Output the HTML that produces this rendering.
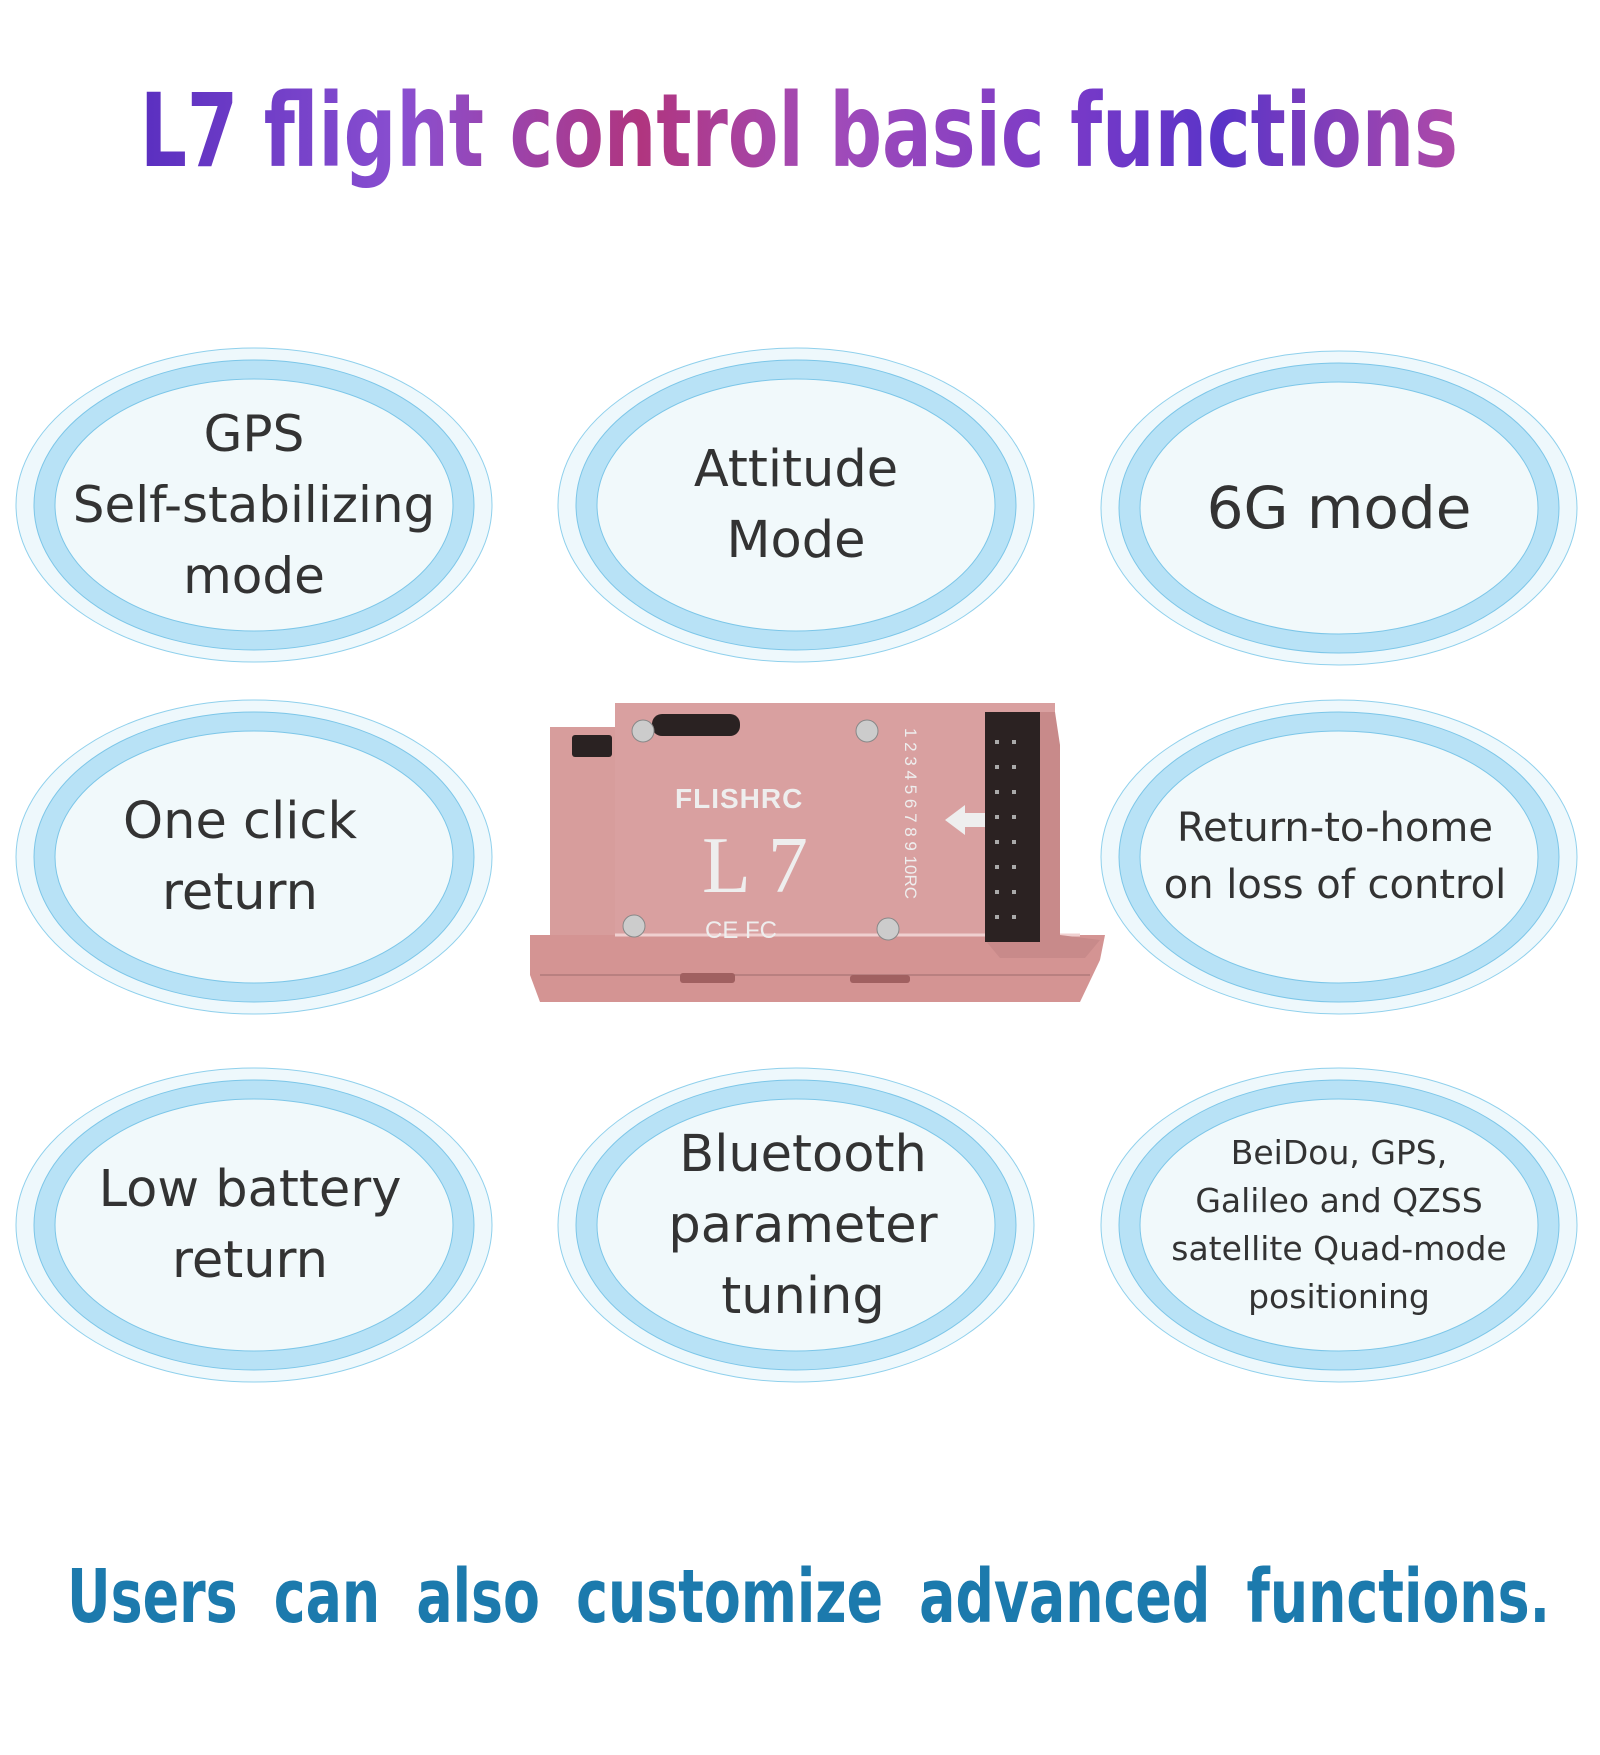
<!DOCTYPE html>
<html><head><meta charset="utf-8"><style>
html,body{margin:0;padding:0;background:#fff;}
body{width:1600px;height:1755px;position:relative;overflow:hidden;font-family:"DejaVu Sans","Liberation Sans",sans-serif;}
.t{position:absolute;display:flex;align-items:center;justify-content:center;text-align:center;color:#333;}
</style></head><body>
<svg width="1600" height="1755" style="position:absolute;left:0;top:0">
<defs>
<linearGradient id="tg" x1="0" x2="1" y1="0" y2="0">
<stop offset="0" stop-color="#5a2fc0"/><stop offset="0.2" stop-color="#8a4fd0"/>
<stop offset="0.38" stop-color="#b0357f"/><stop offset="0.52" stop-color="#a24cb8"/>
<stop offset="0.7" stop-color="#7a3ac8"/><stop offset="0.82" stop-color="#5a34c8"/>
<stop offset="1" stop-color="#b04aa8"/></linearGradient>
<g id="ov">
<ellipse rx="238" ry="157" fill="#eef8fc" stroke="#8fd0ec" stroke-width="1"/>
<ellipse rx="220" ry="145" fill="#b8e2f6" stroke="#7cc6e8" stroke-width="1"/>
<ellipse rx="199" ry="126" fill="#f1f9fb" stroke="#7cc6e8" stroke-width="1"/>
</g>
</defs>
<text x="140" y="166" textLength="1318" lengthAdjust="spacingAndGlyphs" font-family="DejaVu Sans" font-weight="bold" font-size="102" fill="url(#tg)">L7 flight control basic functions</text>
<use href="#ov" x="254" y="505"/><use href="#ov" x="796" y="505"/><use href="#ov" x="1339" y="508"/>
<use href="#ov" x="254" y="857"/><use href="#ov" x="1339" y="857"/>
<use href="#ov" x="254" y="1225"/><use href="#ov" x="796" y="1225"/><use href="#ov" x="1339" y="1225"/>
<g>
<polygon points="550,727 615,727 615,935 550,935" fill="#d79d9c"/>
<rect x="572" y="735" width="40" height="22" rx="3" fill="#2a2222"/>
<polygon points="530,935 1105,935 1100,960 1080,1002 540,1002 530,975" fill="#d49493"/>
<line x1="540" y1="975" x2="1090" y2="975" stroke="#b98080" stroke-width="2"/>
<rect x="615" y="703" width="440" height="232" fill="#d9a0a0"/>
<line x1="615" y1="935" x2="1080" y2="935" stroke="#f0d0d0" stroke-width="3"/>
<polygon points="985,712 1055,712 1060,745 1060,935 1100,940 1085,958 1000,958 985,940" fill="#c88a8a"/>
<rect x="985" y="712" width="55" height="230" fill="#2b2222"/>
<g fill="#aaa">
<rect x="995" y="740" width="4" height="4"/><rect x="1012" y="740" width="4" height="4"/>
<rect x="995" y="765" width="4" height="4"/><rect x="1012" y="765" width="4" height="4"/>
<rect x="995" y="790" width="4" height="4"/><rect x="1012" y="790" width="4" height="4"/>
<rect x="995" y="815" width="4" height="4"/><rect x="1012" y="815" width="4" height="4"/>
<rect x="995" y="840" width="4" height="4"/><rect x="1012" y="840" width="4" height="4"/>
<rect x="995" y="865" width="4" height="4"/><rect x="1012" y="865" width="4" height="4"/>
<rect x="995" y="890" width="4" height="4"/><rect x="1012" y="890" width="4" height="4"/>
<rect x="995" y="915" width="4" height="4"/><rect x="1012" y="915" width="4" height="4"/>
</g>
<rect x="652" y="714" width="88" height="22" rx="10" fill="#2a2222"/>
<g fill="#ccc" stroke="#888"><circle cx="643" cy="731" r="11"/><circle cx="867" cy="731" r="11"/><circle cx="634" cy="926" r="11"/><circle cx="888" cy="929" r="11"/></g>
<text x="675" y="808" font-family="Liberation Sans" font-weight="bold" font-size="28" fill="#eee" letter-spacing="1">FLISHRC</text>
<text x="702" y="892" font-family="Liberation Serif" font-size="80" fill="#eee">L 7</text>
<text x="705" y="938" font-family="Liberation Sans" font-size="24" fill="#eee">CE   FC</text>
<polygon points="945,820 965,805 965,813 985,813 985,827 965,827 965,835" fill="#eee"/>
<text x="0" y="0" transform="translate(905,728) rotate(90)" font-family="Liberation Sans" font-size="17" fill="#eee">1 2 3 4 5 6 7 8 9 10RC</text>
<rect x="680" y="973" width="55" height="10" rx="3" fill="#a06060"/>
<rect x="850" y="975" width="60" height="8" rx="3" fill="#a06060"/>
</g>
<text x="67" y="1622" textLength="1483" lengthAdjust="spacingAndGlyphs" font-family="DejaVu Sans" font-weight="bold" font-size="74" fill="#1c7aad" word-spacing="24">Users can also customize advanced functions.</text>
</svg>
<div class="t" style="left:54px;top:380px;width:400px;height:250px;font-size:50px;line-height:71px">GPS<br>Self-stabilizing<br>mode</div>
<div class="t" style="left:596px;top:380px;width:400px;height:250px;font-size:51px;line-height:71px">Attitude<br>Mode</div>
<div class="t" style="left:1139px;top:383px;width:400px;height:250px;font-size:58px">6G mode</div>
<div class="t" style="left:40px;top:732px;width:400px;height:250px;font-size:51px;line-height:71px">One click<br>return</div>
<div class="t" style="left:1135px;top:732px;width:400px;height:250px;font-size:40px;line-height:57px">Return-to-home<br>on loss of control</div>
<div class="t" style="left:50px;top:1100px;width:400px;height:250px;font-size:51px;line-height:71px">Low battery<br>return</div>
<div class="t" style="left:603px;top:1100px;width:400px;height:250px;font-size:51px;line-height:71px">Bluetooth<br>parameter<br>tuning</div>
<div class="t" style="left:1139px;top:1100px;width:400px;height:250px;font-size:33px;line-height:48px">BeiDou, GPS,<br>Galileo and QZSS<br>satellite Quad-mode<br>positioning</div>
</body></html>
